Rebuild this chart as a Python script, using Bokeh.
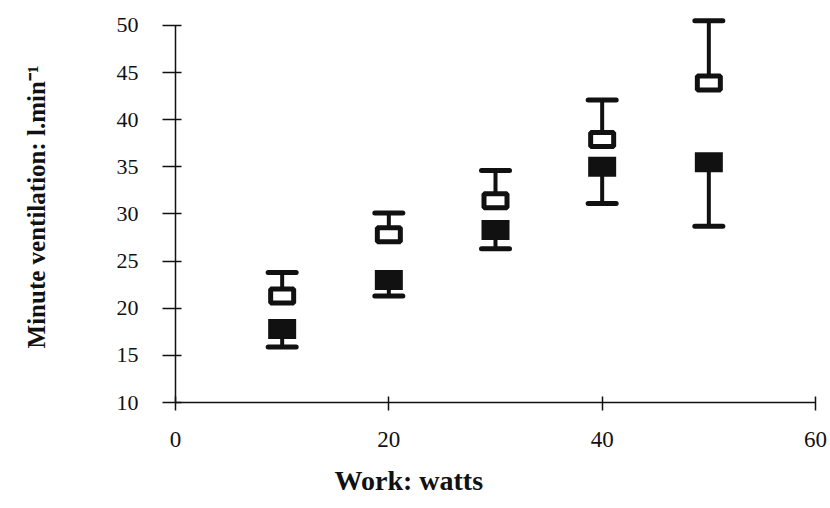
from bokeh.plotting import figure
from bokeh.models import Range1d, FixedTicker, Title, ColumnDataSource
from bokeh.embed import file_html
from bokeh.resources import INLINE

work = [10, 20, 30, 40, 50]
open_mean = [21.3, 27.8, 31.4, 37.9, 43.9]
open_upper = [23.8, 30.1, 34.6, 42.1, 50.5]
filled_mean = [17.8, 23.0, 28.3, 35.0, 35.5]
filled_lower = [15.9, 21.3, 26.3, 31.1, 28.7]
x_ticks = [0, 20, 40, 60]
y_ticks = [10, 15, 20, 25, 30, 35, 40, 45, 50]

ink = "#111111"
p = figure(width=830, height=508, output_backend="svg", toolbar_location=None,
           x_range=Range1d(0, 60), y_range=Range1d(10, 51.48),
           min_border_left=175, min_border_right=15, min_border_top=11, min_border_bottom=105)
p.outline_line_color = None
p.grid.grid_line_color = None

src_o = ColumnDataSource(dict(x=work, m=open_mean, e=open_upper))
src_f = ColumnDataSource(dict(x=work, m=filled_mean, e=filled_lower))

for src in (src_o, src_f):
    p.segment(x0="x", y0="m", x1="x", y1="e", source=src, line_width=4, line_color=ink)
    p.scatter(x="x", y="e", source=src, marker="dash", size=28, line_width=5,
              line_color=ink, line_cap="round")

p.rect(x="x", y="m", width=28, height=20, width_units="screen", height_units="screen",
       source=src_f, fill_color=ink, line_color=None)
p.rect(x="x", y="m", width=23, height=14, width_units="screen", height_units="screen",
       source=src_o, fill_color="white", line_color=ink, line_width=5)

serif = "Liberation Serif"
for ax in (p.xaxis[0], p.yaxis[0]):
    ax.axis_line_color = ink
    ax.axis_line_width = 1.5
    ax.major_tick_line_color = ink
    ax.major_tick_line_width = 1.5
    ax.minor_tick_line_color = None
    ax.major_label_text_font = serif
    ax.major_label_text_color = ink

p.xaxis.ticker = FixedTicker(ticks=x_ticks)
p.xaxis.bounds = (0, 60)
p.xaxis.major_tick_in = 6
p.xaxis.major_tick_out = 8
p.xaxis.major_label_text_font_size = "23px"
p.xaxis.major_label_standoff = 21

p.yaxis.ticker = FixedTicker(ticks=y_ticks)
p.yaxis.bounds = (10, 50)
p.yaxis.major_tick_in = 6
p.yaxis.major_tick_out = 13
p.yaxis.major_label_text_font_size = "22px"
p.yaxis.major_label_standoff = 24
p.yaxis.axis_label = "Minute ventilation: l.min\u207b\u00b9"
p.yaxis.axis_label_text_font = serif
p.yaxis.axis_label_text_font_style = "bold"
p.yaxis.axis_label_text_font_size = "25px"
p.yaxis.axis_label_text_color = ink
p.yaxis.axis_label_standoff = 64

xt = Title(text="Work: watts", align="left", offset=159, standoff=26,
           text_font=serif, text_font_style="bold", text_font_size="28px", text_color=ink)
p.add_layout(xt, "below")

open("out.html", "w").write(file_html(p, INLINE))
